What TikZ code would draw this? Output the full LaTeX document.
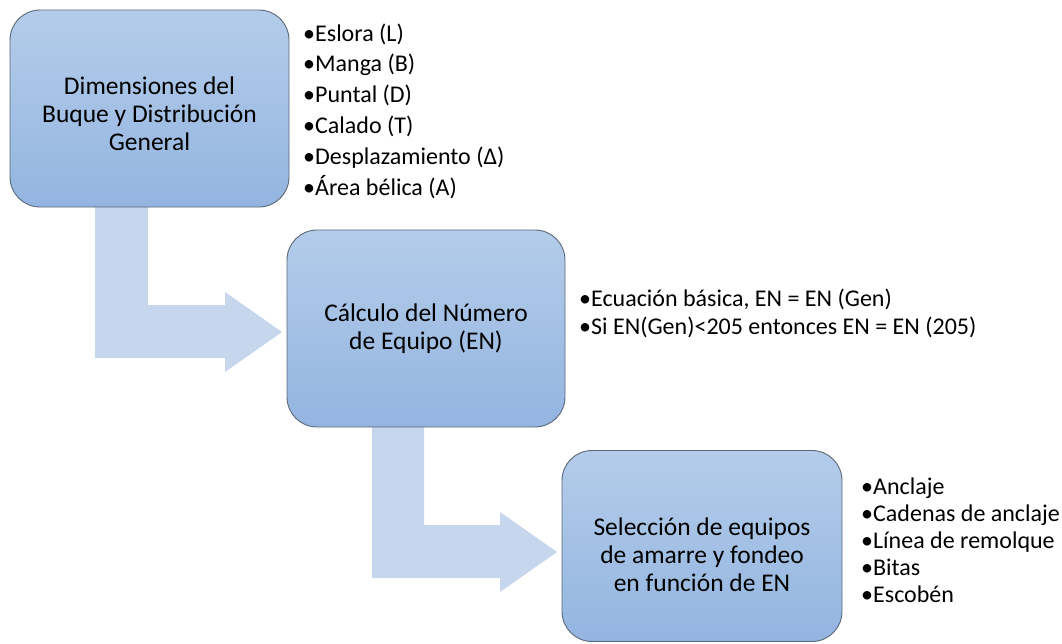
\documentclass[tikz,border=0pt]{standalone}
\usepackage{fontspec}
\setmainfont{Carlito}
\usetikzlibrary{calc}
\definecolor{boxtop}{HTML}{B4CCEA}
\definecolor{boxbot}{HTML}{93B5E0}
\definecolor{boxline}{HTML}{5A6878}
\definecolor{arrowfill}{HTML}{C6D6EC}
\tikzset{
  stepbox/.style={draw=boxline, line width=0.9pt, rounded corners=30pt,
    top color=boxtop, bottom color=boxbot, inner sep=0pt, align=center,
    font={\fontsize{25.5}{28.5}\selectfont}},
  boxtext/.style={align=center, inner sep=0pt, font={\fontsize{25.5}{28}\selectfont}},
  bulletlist/.style={anchor=west, align=left, inner sep=0pt},
  bigarrow/.style={fill=arrowfill, draw=none}
}
\begin{document}
\begin{tikzpicture}[x=1pt, y=-1pt]
\useasboundingbox (0,0) rectangle (1062,643);
% box centres (coordinates for the arrows)
\coordinate (b1c) at (149.5,108.5);
\coordinate (b2c) at (426,328.5);
\coordinate (b3c) at (702,546);
% arrows (drawn behind boxes)
\fill[bigarrow] ($(b1c)+(-54.5,90)$) -- ($(b1c)+(-1.5,90)$) -- ($(b1c)+(-1.5,196.5)$)
  -- (225,305) -- (225,292) -- ($(b2c)+(-144,3.5)$) -- (225,372) -- (225,358)
  -- ($(b1c)+(-54.5,249.5)$) -- cycle;
\fill[bigarrow] ($(b2c)+(-54,90)$) -- ($(b2c)+(-2,90)$) -- ($(b2c)+(-2,196.5)$)
  -- (500,525) -- (500,512) -- ($(b3c)+(-145,6)$) -- (500,592) -- (500,578)
  -- ($(b2c)+(-54,249.5)$) -- cycle;
% boxes
\node[stepbox, minimum width=279pt, minimum height=197pt] (b1) at (b1c) {};
\node[boxtext] (t1) at ($(b1c)+(0,5)$)
  {Dimensiones del\\Buque y Distribución\\General};
\node[stepbox, minimum width=278pt, minimum height=197pt] (b2) at (b2c)
  {Cálculo del Número\\de Equipo (EN)};
\node[stepbox, minimum width=280pt, minimum height=191pt] (b3) at (b3c) {};
\node[boxtext] (t3) at ($(b3c)+(0,9)$)
  {Selección de equipos\\de amarre y fondeo\\en función de EN};
% bullet lists
\node[bulletlist, font={\fontsize{24}{30.8}\selectfont}] (l1) at (303,111)
  {•Eslora (L)\\•Manga (B)\\•Puntal (D)\\•Calado (T)\\•Desplazamiento (Δ)\\•Área bélica (A)};
\node[bulletlist, font={\fontsize{24}{28}\selectfont}] (l2) at (579,313)
  {•Ecuación básica, EN = EN (Gen)\\•Si EN(Gen)<205 entonces EN = EN (205)};
\node[bulletlist, font={\fontsize{24}{27}\selectfont}] (l3) at (861,540)
  {•Anclaje\\•Cadenas de anclaje\\•Línea de remolque\\•Bitas\\•Escobén};
\end{tikzpicture}
\end{document}
